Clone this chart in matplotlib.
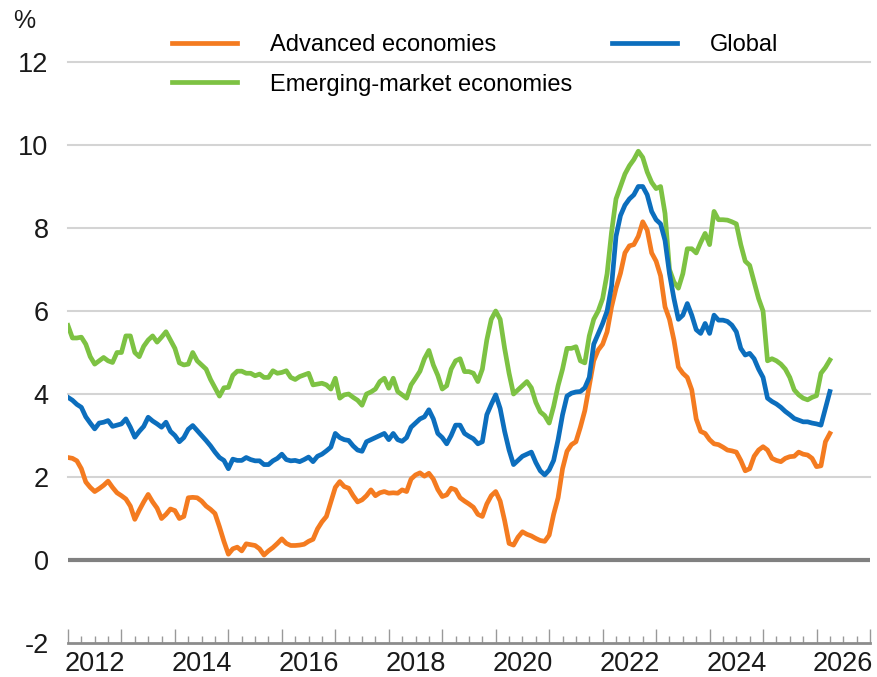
import numpy as np
import matplotlib.pyplot as plt
from matplotlib.ticker import MultipleLocator

plt.rcParams['font.family'] = ['Liberation Sans', 'DejaVu Sans']
plt.rcParams['axes.unicode_minus'] = False

# Monthly values, Jan 2012 onwards (%)
advanced = [
    2.47, 2.45, 2.39, 2.20, 1.88, 1.75, 1.65, 1.72, 1.80, 1.90, 1.75, 1.62,  # 2012
    1.55, 1.47, 1.30, 0.98, 1.20, 1.40, 1.58, 1.40, 1.25, 1.00, 1.10, 1.23,  # 2013
    1.19, 1.00, 1.05, 1.50, 1.51, 1.50, 1.42, 1.30, 1.22, 1.12, 0.80, 0.45,  # 2014
    0.14, 0.27, 0.31, 0.22, 0.39, 0.37, 0.35, 0.27, 0.12, 0.22, 0.30, 0.40,  # 2015
    0.51, 0.40, 0.35, 0.35, 0.36, 0.38, 0.45, 0.50, 0.75, 0.92, 1.05, 1.40,  # 2016
    1.75, 1.89, 1.77, 1.73, 1.55, 1.40, 1.45, 1.55, 1.69, 1.55, 1.62, 1.65,  # 2017
    1.61, 1.62, 1.61, 1.69, 1.65, 1.95, 2.05, 2.10, 2.02, 2.09, 1.95, 1.70,  # 2018
    1.53, 1.57, 1.73, 1.69, 1.50, 1.42, 1.35, 1.27, 1.10, 1.05, 1.35, 1.55,  # 2019
    1.65, 1.42, 0.95, 0.40, 0.36, 0.55, 0.68, 0.62, 0.58, 0.52, 0.47, 0.45,  # 2020
    0.60, 1.10, 1.50, 2.20, 2.62, 2.78, 2.85, 3.20, 3.60, 4.20, 4.80, 5.06,  # 2021
    5.20, 5.50, 6.10, 6.55, 6.91, 7.40, 7.57, 7.60, 7.80, 8.15, 7.95, 7.40,  # 2022
    7.20, 6.85, 6.10, 5.80, 5.30, 4.65, 4.50, 4.40, 4.10, 3.40, 3.10, 3.05,  # 2023
    2.90, 2.80, 2.78, 2.72, 2.65, 2.63, 2.60, 2.40, 2.15, 2.20, 2.50, 2.65,  # 2024
    2.73, 2.65, 2.45, 2.40, 2.37, 2.45, 2.49, 2.50, 2.60, 2.55, 2.53, 2.45,  # 2025
    2.25, 2.27, 2.85, 3.05,                                                  # 2026
]

global_ = [
    3.92, 3.85, 3.75, 3.68, 3.45, 3.30, 3.16, 3.30, 3.32, 3.36, 3.22, 3.25,
    3.28, 3.40, 3.20, 2.96, 3.10, 3.22, 3.44, 3.35, 3.28, 3.20, 3.32, 3.10,
    3.00, 2.85, 2.95, 3.15, 3.24, 3.12, 3.00, 2.88, 2.75, 2.60, 2.47, 2.40,
    2.20, 2.43, 2.40, 2.40, 2.47, 2.42, 2.39, 2.39, 2.30, 2.30, 2.39, 2.45,
    2.55, 2.42, 2.39, 2.40, 2.37, 2.42, 2.48, 2.37, 2.50, 2.55, 2.63, 2.72,
    3.05, 2.95, 2.90, 2.88, 2.75, 2.65, 2.62, 2.85, 2.90, 2.95, 3.00, 3.05,
    2.90, 3.05, 2.90, 2.86, 2.95, 3.20, 3.30, 3.40, 3.45, 3.62, 3.40, 3.05,
    2.95, 2.80, 3.00, 3.25, 3.25, 3.05, 2.98, 2.92, 2.80, 2.85, 3.50, 3.75,
    3.98, 3.65, 3.10, 2.65, 2.30, 2.40, 2.50, 2.55, 2.60, 2.35, 2.15, 2.05,
    2.17, 2.40, 2.90, 3.50, 3.95, 4.02, 4.05, 4.06, 4.15, 4.40, 5.20, 5.45,
    5.70, 6.00, 6.60, 7.80, 8.30, 8.55, 8.70, 8.80, 9.00, 9.00, 8.80, 8.40,
    8.20, 8.10, 7.70, 6.90, 6.30, 5.80, 5.90, 6.18, 5.90, 5.55, 5.46, 5.70,
    5.46, 5.90, 5.78, 5.78, 5.75, 5.66, 5.50, 5.10, 4.94, 4.98, 4.85, 4.60,
    4.40, 3.90, 3.82, 3.76, 3.68, 3.58, 3.50, 3.41, 3.37, 3.33, 3.33, 3.30,
    3.28, 3.25, 3.65, 4.06,
]

emerging = [
    5.65, 5.35, 5.35, 5.37, 5.20, 4.90, 4.72, 4.80, 4.88, 4.80, 4.76, 5.00,
    5.00, 5.40, 5.40, 5.00, 4.90, 5.15, 5.30, 5.40, 5.25, 5.37, 5.50, 5.30,
    5.10, 4.75, 4.70, 4.72, 5.00, 4.80, 4.70, 4.60, 4.35, 4.15, 3.95, 4.15,
    4.16, 4.45, 4.55, 4.55, 4.50, 4.50, 4.44, 4.48, 4.40, 4.40, 4.56, 4.50,
    4.52, 4.56, 4.40, 4.35, 4.42, 4.46, 4.50, 4.22, 4.24, 4.26, 4.22, 4.12,
    4.38, 3.90, 3.98, 4.00, 3.92, 3.85, 3.73, 4.00, 4.05, 4.12, 4.30, 4.38,
    4.14, 4.38, 4.06, 3.98, 3.90, 4.22, 4.38, 4.55, 4.85, 5.05, 4.70, 4.45,
    4.12, 4.20, 4.60, 4.80, 4.85, 4.54, 4.54, 4.50, 4.30, 4.60, 5.30, 5.80,
    6.00, 5.80, 5.10, 4.50, 4.00, 4.10, 4.20, 4.30, 4.15, 3.80, 3.57, 3.48,
    3.30, 3.70, 4.20, 4.60, 5.10, 5.10, 5.14, 4.80, 4.75, 5.40, 5.80, 6.00,
    6.30, 6.90, 7.90, 8.70, 9.00, 9.30, 9.50, 9.65, 9.85, 9.70, 9.35, 9.10,
    8.95, 9.00, 8.35, 7.00, 6.70, 6.55, 6.90, 7.50, 7.50, 7.40, 7.65, 7.87,
    7.60, 8.40, 8.20, 8.20, 8.19, 8.15, 8.10, 7.60, 7.20, 7.10, 6.70, 6.30,
    6.00, 4.80, 4.85, 4.80, 4.72, 4.60, 4.40, 4.10, 3.98, 3.90, 3.86, 3.92,
    3.96, 4.50, 4.64, 4.82,
]

start_year = 2012
years = np.arange(2012, 2028)
label_years = np.arange(2012, 2027, 2)

t = start_year + np.arange(len(advanced)) / 12

fig = plt.figure(figsize=(8.77, 6.77), dpi=100)
ax = fig.add_axes([0.0775, 0.0502, 0.9145, 0.8582])

orange = '#F47B20'
blue = '#0C6EBD'
green = '#7DC243'

# gridlines
for v in range(2, 13, 2):
    ax.axhline(v, color='#d4d4d4', lw=1.5, zorder=1, clip_on=False)
ax.axhline(0, color='#808080', lw=3, zorder=1)

ax.plot(t, advanced, color=orange, lw=3.4, label='Advanced economies', zorder=3)
ax.plot(t, emerging, color=green, lw=3.4, label='Emerging-market economies', zorder=3)
ax.plot(t, global_, color=blue, lw=3.4, label='Global', zorder=4)

ax.set_xlim(2012, 2027)
ax.set_ylim(-2, 12)

for s in ['top', 'right', 'left']:
    ax.spines[s].set_visible(False)
ax.spines['bottom'].set_color('#8c8c8c')
ax.spines['bottom'].set_linewidth(2)

ax.set_yticks(np.arange(-2, 13, 2))
ax.tick_params(axis='y', length=0, pad=14, labelsize=19.5, labelcolor='#1a1a1a')

ax.set_xticks(years)
ax.set_xticklabels([])
ax.xaxis.set_minor_locator(MultipleLocator(0.25))
ax.tick_params(axis='x', which='major', direction='in', length=10, width=1, color='#999999')
ax.tick_params(axis='x', which='minor', direction='in', length=5, width=1, color='#999999')

for yr in label_years:
    ax.text(yr + 0.5, -0.013, str(yr), transform=ax.get_xaxis_transform(),
            ha='center', va='top', fontsize=19.5, color='#1a1a1a')

fig.text(0.015, 0.951, '%', fontsize=18, color='#1a1a1a', ha='left', va='bottom')

ax.legend(loc='upper left', bbox_to_anchor=(0.196, 0.95), bbox_transform=fig.transFigure,
          ncol=2, frameon=False, fontsize=17, handlelength=2.75, handletextpad=1.4,
          columnspacing=1.7, labelspacing=0.75, borderpad=0, borderaxespad=0)

fig.savefig('out.png', dpi=100)
